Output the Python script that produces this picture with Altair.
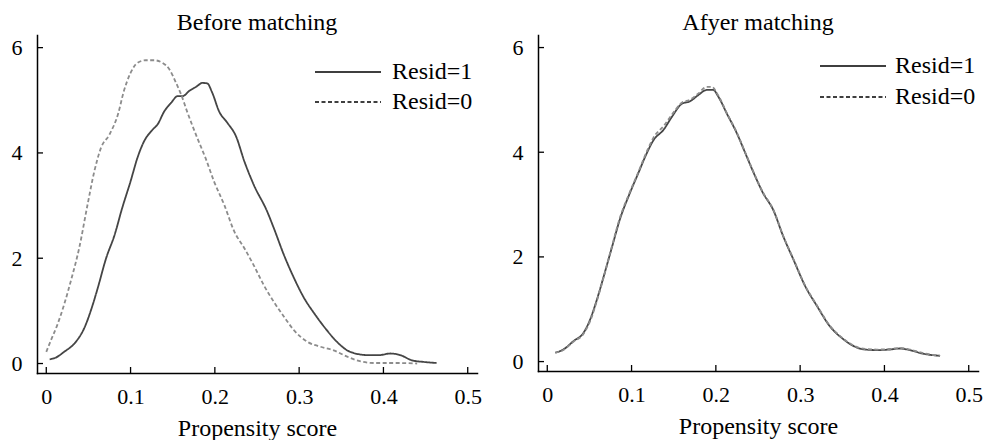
import altair as alt
import pandas as pd

# ---- Before matching ----
before_r1_x = [0.004, 0.011, 0.021, 0.035, 0.045, 0.055, 0.061, 0.071, 0.081, 0.090, 0.100, 0.108, 0.116, 0.126,
               0.132, 0.140, 0.148, 0.156, 0.162, 0.169, 0.179, 0.185, 0.191, 0.197, 0.205, 0.215, 0.225, 0.235,
               0.246, 0.262, 0.270, 0.282, 0.294, 0.306, 0.318, 0.331, 0.345, 0.357, 0.367, 0.381, 0.395, 0.408,
               0.420, 0.434, 0.448, 0.463]
before_r1_y = [0.08, 0.11, 0.22, 0.41, 0.67, 1.11, 1.43, 2.00, 2.44, 2.95, 3.46, 3.90, 4.22, 4.44,
               4.54, 4.79, 4.95, 5.08, 5.08, 5.17, 5.27, 5.33, 5.32, 5.14, 4.79, 4.57, 4.32, 3.84,
               3.40, 2.89, 2.57, 2.06, 1.62, 1.24, 0.95, 0.67, 0.41, 0.25, 0.19, 0.16, 0.16, 0.19,
               0.16, 0.06, 0.03, 0.01]
before_r0_x = [0.000, 0.0055, 0.013, 0.021, 0.029, 0.039, 0.049, 0.057, 0.065, 0.075, 0.085, 0.092, 0.100, 0.108,
               0.118, 0.128, 0.138, 0.146, 0.154, 0.160, 0.167, 0.179, 0.189, 0.199, 0.211, 0.223, 0.235, 0.246,
               0.258, 0.270, 0.282, 0.294, 0.310, 0.325, 0.341, 0.357, 0.373, 0.389, 0.416, 0.440]
before_r0_y = [0.22, 0.44, 0.73, 1.11, 1.56, 2.19, 3.02, 3.65, 4.10, 4.35, 4.73, 5.17, 5.52, 5.71,
               5.76, 5.76, 5.71, 5.59, 5.33, 5.11, 4.79, 4.29, 3.90, 3.46, 3.02, 2.51, 2.19, 1.87,
               1.49, 1.17, 0.89, 0.63, 0.41, 0.32, 0.25, 0.13, 0.04, 0.01, 0.01, 0.00]

# ---- After matching ----
after_r1_x = [0.0095, 0.019, 0.031, 0.043, 0.051, 0.059, 0.067, 0.077, 0.086, 0.098, 0.108, 0.118, 0.126, 0.138,
              0.148, 0.160, 0.169, 0.179, 0.189, 0.197, 0.203, 0.213, 0.225, 0.235, 0.245, 0.256, 0.268, 0.280,
              0.292, 0.306, 0.320, 0.335, 0.351, 0.363, 0.377, 0.391, 0.406, 0.418, 0.430, 0.446, 0.466]
after_r1_y = [0.17, 0.23, 0.39, 0.55, 0.81, 1.19, 1.63, 2.20, 2.71, 3.22, 3.60, 3.98, 4.23, 4.43,
              4.68, 4.93, 4.97, 5.09, 5.19, 5.19, 5.06, 4.74, 4.36, 3.98, 3.60, 3.22, 2.90, 2.39,
              1.95, 1.44, 1.06, 0.68, 0.43, 0.30, 0.23, 0.22, 0.23, 0.25, 0.22, 0.15, 0.11]
after_r0_x = [0.0095, 0.019, 0.031, 0.043, 0.051, 0.059, 0.067, 0.077, 0.086, 0.098, 0.108, 0.118, 0.126, 0.138,
              0.148, 0.160, 0.169, 0.179, 0.189, 0.195, 0.203, 0.213, 0.225, 0.235, 0.245, 0.256, 0.268, 0.280,
              0.292, 0.306, 0.320, 0.335, 0.351, 0.363, 0.377, 0.391, 0.406, 0.418, 0.430, 0.446, 0.466]
after_r0_y = [0.17, 0.22, 0.38, 0.53, 0.78, 1.17, 1.62, 2.22, 2.74, 3.24, 3.62, 4.01, 4.28, 4.50,
              4.72, 4.95, 5.00, 5.12, 5.25, 5.25, 5.08, 4.75, 4.37, 3.99, 3.61, 3.23, 2.91, 2.40,
              1.96, 1.45, 1.07, 0.69, 0.44, 0.31, 0.24, 0.23, 0.24, 0.26, 0.23, 0.16, 0.11]

groups = ["Resid=1", "Resid=0"]
x_ticks = [0, 0.1, 0.2, 0.3, 0.4, 0.5]
y_ticks = [0, 2, 4, 6]

FONT = "Liberation Serif"


def make_df(x1, y1, x0, y0):
    return pd.concat([
        pd.DataFrame({"x": x1, "y": y1, "group": groups[0]}),
        pd.DataFrame({"x": x0, "y": y0, "group": groups[1]}),
    ], ignore_index=True).assign(shade=lambda d: d["group"])


def panel(df, title, height, legend_x, legend_y, row_pad, label_off):
    xs = alt.Scale(domain=[-0.011, 0.511], nice=False, zero=False)
    ys = alt.Scale(domain=[-0.18, 6.24], nice=False, zero=False)
    x_axis = alt.Axis(values=x_ticks, format="~g", title="Propensity score", ticks=False, grid=False,
                      labelPadding=13, titlePadding=9, labelFont=FONT, labelFontSize=22, titleFont=FONT,
                      titleFontSize=24, titleFontWeight="normal", labelColor="black", titleColor="black",
                      domainColor="black", domainWidth=1.5, labelFlush=False)
    y_axis = alt.Axis(values=y_ticks, format="~g", title=None, ticks=False, grid=False,
                      labelPadding=15, labelFont=FONT, labelFontSize=22, labelColor="black",
                      domainColor="black", domainWidth=1.5)
    lines = alt.Chart(df).mark_line(interpolate="monotone", strokeWidth=1.8).encode(
        x=alt.X("x:Q", scale=xs, axis=x_axis),
        y=alt.Y("y:Q", scale=ys, axis=y_axis),
        color=alt.Color("shade:N", scale=alt.Scale(domain=groups, range=["#454545", "#8c8c8c"]), legend=None),
        strokeDash=alt.StrokeDash(
            "group:N",
            scale=alt.Scale(domain=groups, range=[[1, 0], [4, 2.5]]),
            legend=alt.Legend(orient="none", legendX=legend_x, legendY=legend_y, title=None,
                              symbolType="M-2.2,0H2.2", symbolSize=900, symbolOffset=18,
                              symbolStrokeColor="black", symbolStrokeWidth=1.4,
                              labelFont=FONT, labelFontSize=24, labelColor="black",
                              labelOffset=label_off, rowPadding=row_pad, padding=0, labelLimit=0),
        ),
    )
    xt = alt.Chart(pd.DataFrame({"x": x_ticks})).mark_rule(color="black", strokeWidth=1.3).encode(
        x=alt.X("x:Q", scale=xs), y=alt.value(height), y2=alt.value(height - 6))
    yt = alt.Chart(pd.DataFrame({"y": y_ticks})).mark_rule(color="black", strokeWidth=1.3).encode(
        y=alt.Y("y:Q", scale=ys), x=alt.value(0), x2=alt.value(6))
    return alt.layer(lines, xt, yt).properties(
        width=440, height=height,
        title=alt.TitleParams(title, font=FONT, fontSize=24, fontWeight="normal", color="black",
                              anchor="middle", offset=0),
    )


left = panel(make_df(before_r1_x, before_r1_y, before_r0_x, before_r0_y), "Before matching", 338, 277, 21, 2, 28)
right = panel(make_df(after_r1_x, after_r1_y, after_r0_x, after_r0_y), "Afyer matching", 336, 281, 15, 3, 26)

chart = alt.hconcat(left, right, spacing=61, bounds="flush").resolve_legend(
    strokeDash="independent"
).properties(
    padding={"left": 3, "top": 3, "right": 0, "bottom": 0}
).configure_view(stroke=None).configure_axis(domainCap="square")

chart.save("out.html", embed_options={"renderer": "svg", "actions": False})
